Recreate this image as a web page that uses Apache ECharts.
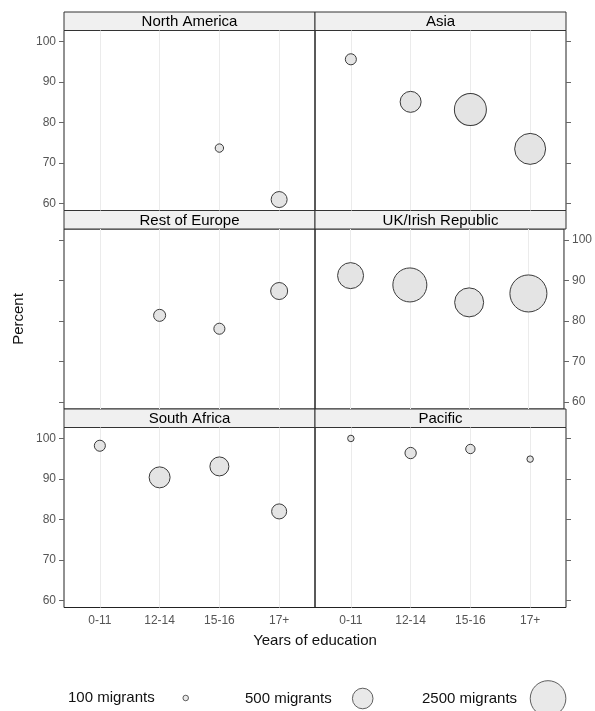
<!DOCTYPE html>
<html><head><meta charset="utf-8">
<script src="https://cdn.jsdelivr.net/npm/echarts@6/dist/echarts.min.js"></script>
<style>html,body{margin:0;padding:0;background:#fff}#c{width:595px;height:711px}</style>
</head><body><div id="c"></div>
<script>
// ---- data ----
const categories = ['0-11', '12-14', '15-16', '17+'];
const panelNames = ['North America', 'Asia', 'Rest of Europe', 'UK/Irish Republic', 'South Africa', 'Pacific'];
const northAmericaPct = [null, null, 73.7, 61.0];
const northAmericaMig = [null, null, 135, 305];
const asiaPct = [95.6, 85.1, 83.2, 73.5];
const asiaMig = [180, 520, 1700, 1520];
const restEuropePct = [null, 81.4, 78.1, 87.4];
const restEuropeMig = [null, 200, 180, 340];
const ukPct = [91.2, 88.9, 84.6, 86.8];
const ukMig = [890, 2100, 1230, 2900];
const southAfricaPct = [98.2, 90.4, 93.1, 82.0];
const southAfricaMig = [180, 520, 420, 275];
const pacificPct = [100.0, 96.4, 97.4, 94.9];
const pacificMig = [110, 185, 150, 110];
const yTicks = [60, 70, 80, 90, 100];
const legendCounts = [100, 500, 2500];

const pctByPanel = [northAmericaPct, asiaPct, restEuropePct, ukPct, southAfricaPct, pacificPct];
const migByPanel = [northAmericaMig, asiaMig, restEuropeMig, ukMig, southAfricaMig, pacificMig];

// ---- layout ----
const colX = [64, 315];
const colW = 251;
const rowTop = [12, 210.5, 409];
const stripH = 18.5;
const panelH = 180;
const sizeOf = n => 20.6 + 21.5 * Math.log10(n / 500);
const fillC = '#e4e4e4', strokeC = '#3a3a3a';
const font = 'Liberation Sans, Arial, sans-serif';

const grids = [], xAxes = [], yAxes = [], series = [], graphics = [];
for (let i = 0; i < 6; i++) {
  const r = Math.floor(i / 2), c = i % 2;
  grids.push({ left: colX[c], top: rowTop[r] + stripH, width: colW, height: panelH,
    show: true, borderColor: '#222', borderWidth: 1, backgroundColor: 'transparent' });
  const showX = r === 2;
  xAxes.push({ gridIndex: i, type: 'value', min: 0.4, max: 4.6,
    axisLine: { show: false },
    axisTick: { show: false, customValues: [1, 2, 3, 4] },
    axisLabel: { show: showX, customValues: [1, 2, 3, 4], margin: 7,
      formatter: v => categories[Math.round(v) - 1], color: '#555', fontSize: 12, fontFamily: font },
    splitLine: { show: true, lineStyle: { color: '#ebebeb', width: 1 } } });
  const showY = (r === 1) === (c === 1);
  const ya = { gridIndex: i, type: 'value', min: 58.3, max: 102.7, position: c === 0 ? 'left' : 'right',
    axisLine: { show: false },
    axisTick: { show: true, length: 5, customValues: yTicks, lineStyle: { color: '#666' } },
    axisLabel: { show: showY, customValues: yTicks, margin: 8, color: '#555', fontSize: 12, fontFamily: font },
    splitLine: { show: false } };
  if (i === 2) {
    Object.assign(ya, { name: 'Percent', nameLocation: 'middle', nameGap: 38, nameRotate: 90,
      nameTextStyle: { fontSize: 15, color: '#111', fontFamily: font } });
  }
  yAxes.push(ya);
  const data = [];
  pctByPanel[i].forEach((p, k) => { if (p !== null) data.push([k + 1, p, migByPanel[i][k]]); });
  series.push({ type: 'scatter', name: panelNames[i], xAxisIndex: i, yAxisIndex: i, data,
    symbol: 'circle', symbolSize: d => sizeOf(d[2]),
    itemStyle: { color: fillC, borderColor: strokeC, borderWidth: 1, opacity: 1 },
    emphasis: { disabled: true }, silent: true });
  // strip
  graphics.push({ type: 'rect', shape: { x: colX[c], y: rowTop[r], width: colW, height: stripH },
    style: { fill: '#f0f0f0', stroke: '#333', lineWidth: 1 }, silent: true });
  graphics.push({ type: 'text', x: colX[c] + colW / 2, y: rowTop[r] + stripH / 2 + 1,
    style: { text: panelNames[i], fill: '#000', font: '15px ' + font, textAlign: 'center', textVerticalAlign: 'middle' }, silent: true });
}
graphics.push({ type: 'text', x: 315, y: 641,
  style: { text: 'Years of education', fill: '#111', font: '15px ' + font, textAlign: 'center', textVerticalAlign: 'middle' } });

// legend: dummy series + one legend component per key size
const legendLeft = [68, 245, 422];
const legends = legendCounts.map((n, k) => {
  const nm = n + ' migrants';
  series.push({ type: 'scatter', name: nm, xAxisIndex: 5, yAxisIndex: 5, data: [],
    itemStyle: { color: fillC, borderColor: strokeC, borderWidth: 1 } });
  const d = sizeOf(n);
  const h = Math.max(d, 15);
  return { left: legendLeft[k], top: 698 - h / 2, padding: 0, align: 'right', selectedMode: false,
    itemWidth: 52, itemHeight: d, itemGap: 0,
    data: [{ name: nm, icon: 'circle', itemStyle: { color: fillC, borderColor: strokeC, borderWidth: 1 } }],
    textStyle: { fontSize: 15, color: '#111', fontFamily: font } };
});

const chart = echarts.init(document.getElementById('c'), null, { renderer: 'canvas' });
chart.setOption({
  animation: false,
  backgroundColor: '#fff',
  grid: grids, xAxis: xAxes, yAxis: yAxes, series, legend: legends,
  graphic: graphics
});
</script></body></html>
